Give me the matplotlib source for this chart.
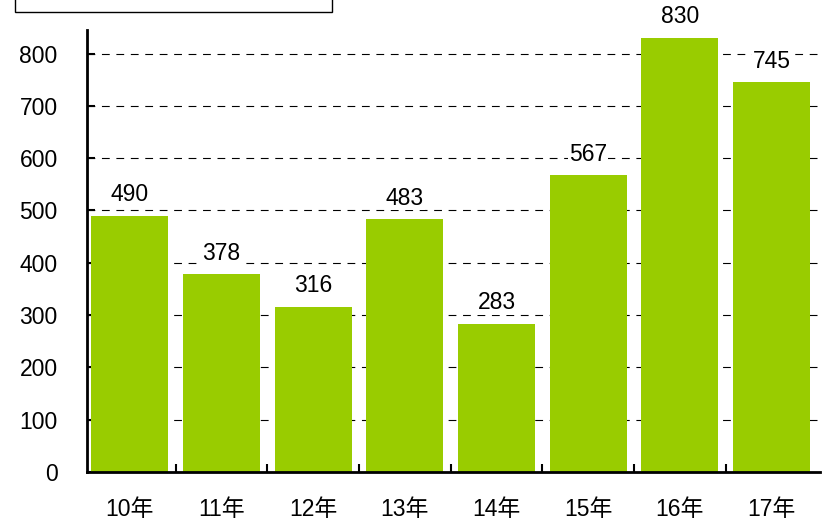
import matplotlib
matplotlib.use("Agg")
import matplotlib.pyplot as plt
from matplotlib.patches import Rectangle

plt.rcParams['font.family'] = ['Liberation Sans', 'Noto Sans CJK SC']

categories = ["10年", "11年", "12年", "13年", "14年", "15年", "16年", "17年"]
values = [490, 378, 316, 483, 283, 567, 830, 745]
yticks = [0, 100, 200, 300, 400, 500, 600, 700, 800]

FS = 16.5

fig = plt.figure(figsize=(8.27, 5.20), dpi=100)
ax = fig.add_axes([0.105, 0.0923, 0.8865, 0.850])

x = list(range(len(categories)))
ax.bar(x, values, width=0.84, color="#99cc00", zorder=2)
for xi, v in zip(x, values):
    ax.annotate(str(v), (xi, v), xytext=(0, 7), textcoords="offset points",
                ha="center", va="bottom", fontsize=FS, zorder=3,
                bbox=dict(facecolor="white", edgecolor="none", pad=0.5))

ax.set_xlim(-0.47, len(categories) - 0.47)
ax.set_ylim(0, 845)
ax.set_yticks(yticks)
ax.set_yticklabels([str(t) for t in yticks], fontsize=FS)
ax.yaxis.grid(True, linestyle=(0, (7, 6)), color="black", linewidth=0.8, zorder=0)
ax.tick_params(axis="y", direction="in", length=6, width=1.5, pad=21)

# category labels centred under bars, tick marks on category boundaries
ax.set_xticks([i + 0.5 for i in x[:-1]])
ax.set_xticklabels([])
ax.tick_params(axis="x", direction="in", length=6, width=1.5)
for xi, c in zip(x, categories):
    ax.annotate(c, (xi, 0), xycoords=("data", "axes fraction"),
                xytext=(0, -19), textcoords="offset points",
                ha="center", va="top", fontsize=FS)

for s in ["top", "right"]:
    ax.spines[s].set_visible(False)
ax.spines["left"].set_linewidth(2)
ax.spines["bottom"].set_linewidth(2)

# header box at top-left
fig.patches.append(Rectangle((15 / 827, 1 - 12 / 520), 317 / 827, 0.1,
                             transform=fig.transFigure, facecolor="white",
                             edgecolor="black", linewidth=1))

fig.savefig("out.png", dpi=100)
